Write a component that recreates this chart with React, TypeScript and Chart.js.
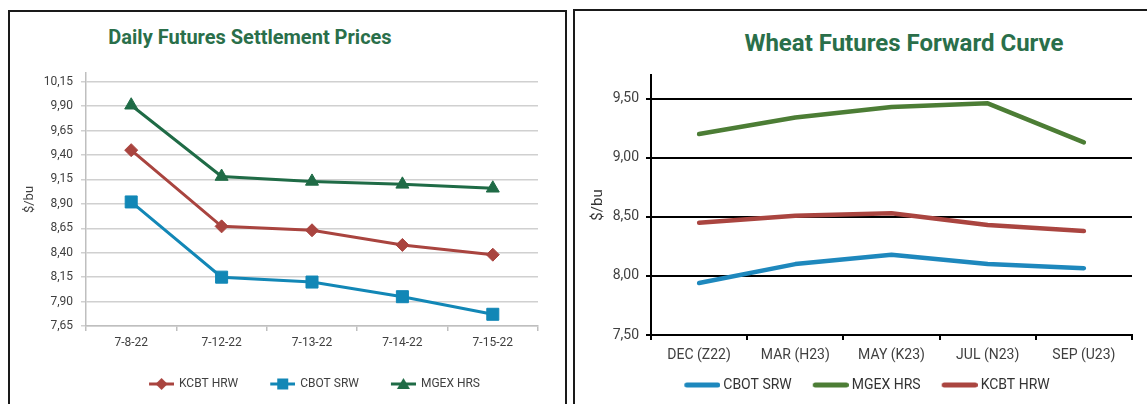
import React, { useEffect, useRef } from "react";
import { Chart, registerables } from "chart.js";
Chart.register(...registerables);

// ---------- data ----------
const dailyDates = ["7-8-22", "7-12-22", "7-13-22", "7-14-22", "7-15-22"];
const dailyKcbtHrw = [9.45, 8.67, 8.63, 8.48, 8.38];
const dailyCbotSrw = [8.92, 8.15, 8.1, 7.95, 7.77];
const dailyMgexHrs = [9.91, 9.18, 9.13, 9.1, 9.06];
const dailyTicks = [7.65, 7.9, 8.15, 8.4, 8.65, 8.9, 9.15, 9.4, 9.65, 9.9, 10.15];

const curveMonths = ["DEC (Z22)", "MAR (H23)", "MAY (K23)", "JUL (N23)", "SEP (U23)"];
const curveCbotSrw = [7.94, 8.1, 8.18, 8.1, 8.065];
const curveMgexHrs = [9.2, 9.34, 9.43, 9.46, 9.13];
const curveKcbtHrw = [8.45, 8.51, 8.53, 8.43, 8.38];
const curveTicks = [7.5, 8.0, 8.5, 9.0, 9.5];

// ---------- styles ----------
const L_KC = "#a9443f";
const L_CB = "#1287b6";
const L_MG = "#1f6b46";
const R_CB = "#1e88bd";
const R_MG = "#4c7d35";
const R_KC = "#aa4540";
const TITLE_GREEN = "#2a6f4a";
const FONT = "Roboto, 'Noto Sans', sans-serif";

const fmt = (v: any) => Number(v).toFixed(2).replace(".", ",");

// legend icon: line with marker (left chart); image is 31x14, line occupies x 6..31
function markerIcon(color: string, marker: string): HTMLCanvasElement {
  const c = document.createElement("canvas");
  c.width = 31;
  c.height = 14;
  const ctx = c.getContext("2d")!;
  const cx = 18.5;
  ctx.strokeStyle = color;
  ctx.lineWidth = 3;
  ctx.beginPath();
  ctx.moveTo(6, 7);
  ctx.lineTo(31, 7);
  ctx.stroke();
  ctx.fillStyle = color;
  ctx.beginPath();
  if (marker === "rectRot") {
    ctx.moveTo(cx, 1);
    ctx.lineTo(cx + 6, 7);
    ctx.lineTo(cx, 13);
    ctx.lineTo(cx - 6, 7);
  } else if (marker === "rect") {
    ctx.rect(cx - 5.5, 1.5, 11, 11);
  } else {
    ctx.moveTo(cx, 1);
    ctx.lineTo(cx + 6.5, 12);
    ctx.lineTo(cx - 6.5, 12);
  }
  ctx.closePath();
  ctx.fill();
  return c;
}

// legend icon: thick line (right chart); image is 47x10, line occupies x 11..47
function lineIcon(color: string): HTMLCanvasElement {
  const c = document.createElement("canvas");
  c.width = 47;
  c.height = 10;
  const ctx = c.getContext("2d")!;
  ctx.strokeStyle = color;
  ctx.lineWidth = 5;
  ctx.lineCap = "round";
  ctx.beginPath();
  ctx.moveTo(13.5, 5);
  ctx.lineTo(44.5, 5);
  ctx.stroke();
  return c;
}

export default function App() {
  const leftRef = useRef<HTMLCanvasElement>(null);
  const rightRef = useRef<HTMLCanvasElement>(null);

  useEffect(() => {
    Chart.defaults.font.family = FONT;
    Chart.defaults.color = "#404040";
    const defaultGen = Chart.defaults.plugins.legend.labels.generateLabels;

    const leftIcons = [markerIcon(L_KC, "rectRot"), markerIcon(L_CB, "rect"), markerIcon(L_MG, "triangle")];
    const rightIcons = [lineIcon(R_CB), lineIcon(R_MG), lineIcon(R_KC)];

    const c1 = new Chart(leftRef.current!, {
      type: "line",
      data: {
        labels: dailyDates,
        datasets: [
          { label: "KCBT HRW", data: dailyKcbtHrw, borderColor: L_KC, backgroundColor: L_KC, pointStyle: "rectRot", pointRadius: 6.5, borderWidth: 3, pointBorderWidth: 1 },
          { label: "CBOT SRW", data: dailyCbotSrw, borderColor: L_CB, backgroundColor: L_CB, pointStyle: "rect", pointRadius: 8.5, borderWidth: 3, pointBorderWidth: 1 },
          { label: "MGEX HRS", data: dailyMgexHrs, borderColor: L_MG, backgroundColor: L_MG, pointStyle: "triangle", pointRadius: 7.5, borderWidth: 3, pointBorderWidth: 1 },
        ],
      },
      options: {
        responsive: false,
        animation: false,
        devicePixelRatio: 1,
        layout: { padding: { top: 60, left: 0, right: 26, bottom: 4 } },
        plugins: {
          tooltip: { enabled: false },
          legend: {
            position: "bottom",
            fullSize: false,
            labels: {
              usePointStyle: true,
              pointStyleWidth: 29,
              padding: 27,
              color: "#404040",
              font: { size: 12 },
              generateLabels: (chart: any) =>
                defaultGen(chart).map((l: any, i: number) => ({ ...l, pointStyle: leftIcons[i] })),
            },
          },
        },
        scales: {
          x: {
            offset: true,
            grid: { offset: true, drawOnChartArea: false, tickLength: 5, color: "#bfbfbf", lineWidth: 1.5 },
            border: { color: "#bfbfbf", width: 1.5 },
            ticks: { padding: 5, font: { size: 12 }, color: "#404040", maxRotation: 0 },
            afterFit: (s: any) => { s.height = 25; },
          },
          y: {
            min: 7.65,
            max: 10.24,
            afterBuildTicks: (s: any) => { s.ticks = dailyTicks.map((v) => ({ value: v })); },
            ticks: { callback: (v: any) => fmt(v), padding: 8, font: { size: 12 }, color: "#404040" },
            grid: { color: "#d0d0d0", lineWidth: 1.5, tickLength: 5 },
            border: { color: "#bfbfbf", width: 1.5 },
            title: { display: true, text: "$/bu", font: { size: 13 }, color: "#404040", padding: { top: 11, bottom: 0 } },
            afterFit: (s: any) => { s.width = 75; },
          },
        },
      } as any,
    });

    const c2 = new Chart(rightRef.current!, {
      type: "line",
      data: {
        labels: curveMonths,
        datasets: [
          { label: "CBOT SRW", data: curveCbotSrw, borderColor: R_CB, backgroundColor: R_CB, pointRadius: 0, borderWidth: 4.5, borderCapStyle: "round", borderJoinStyle: "round" },
          { label: "MGEX HRS", data: curveMgexHrs, borderColor: R_MG, backgroundColor: R_MG, pointRadius: 0, borderWidth: 4.5, borderCapStyle: "round", borderJoinStyle: "round" },
          { label: "KCBT HRW", data: curveKcbtHrw, borderColor: R_KC, backgroundColor: R_KC, pointRadius: 0, borderWidth: 4.5, borderCapStyle: "round", borderJoinStyle: "round" },
        ],
      },
      options: {
        responsive: false,
        animation: false,
        devicePixelRatio: 1,
        layout: { padding: { top: 63, left: 19, right: 15, bottom: 2 } },
        plugins: {
          tooltip: { enabled: false },
          legend: {
            position: "bottom",
            fullSize: true,
            labels: {
              usePointStyle: true,
              pointStyleWidth: 39,
              padding: 14,
              color: "#333333",
              font: { size: 14 },
              generateLabels: (chart: any) =>
                defaultGen(chart).map((l: any, i: number) => ({ ...l, pointStyle: rightIcons[i] })),
            },
          },
        },
        scales: {
          x: {
            offset: true,
            grid: { offset: true, drawOnChartArea: false, tickLength: 5, color: "#000000", lineWidth: 2 },
            border: { color: "#000000", width: 2 },
            ticks: { padding: 7, font: { size: 14 }, color: "#404040", maxRotation: 0 },
            afterFit: (s: any) => { s.height = 29; },
          },
          y: {
            min: 7.5,
            max: 9.7,
            afterBuildTicks: (s: any) => { s.ticks = curveTicks.map((v) => ({ value: v })); },
            ticks: { callback: (v: any) => fmt(v), padding: 7, font: { size: 14 }, color: "#404040" },
            grid: { color: "#000000", lineWidth: 2, tickLength: 5 },
            border: { color: "#000000", width: 2 },
            title: { display: true, text: "$/bu", font: { size: 15 }, color: "#333333", padding: { top: -6, bottom: 0 } },
            afterFit: (s: any) => { s.width = 56; },
          },
        },
      } as any,
    });

    return () => {
      c1.destroy();
      c2.destroy();
    };
  }, []);

  return (
    <div style={{ position: "fixed", left: 0, top: 0, width: 1147, height: 404, overflow: "hidden", background: "#ffffff", fontFamily: FONT }}>
      <div style={{ position: "absolute", left: 8, top: 10, width: 555, height: 420, border: "2px solid #1a1a1a", borderBottom: "none" }} />
      <div style={{ position: "absolute", left: 573, top: 9, width: 700, height: 420, border: "2px solid #1a1a1a", borderBottom: "none" }} />
      <div style={{ position: "absolute", left: 50, top: 25, width: 400, textAlign: "center", fontSize: 20, lineHeight: "24px", fontWeight: 700, color: TITLE_GREEN }}>
        Daily Futures Settlement Prices
      </div>
      <div style={{ position: "absolute", left: 704, top: 29, width: 400, textAlign: "center", fontSize: 24, lineHeight: "28px", fontWeight: 700, color: TITLE_GREEN }}>
        Wheat Futures Forward Curve
      </div>
      <canvas ref={leftRef} width={553} height={391} style={{ position: "absolute", left: 11, top: 13, width: 553, height: 391 }} />
      <canvas ref={rightRef} width={571} height={392} style={{ position: "absolute", left: 576, top: 12, width: 571, height: 392 }} />
    </div>
  );
}
